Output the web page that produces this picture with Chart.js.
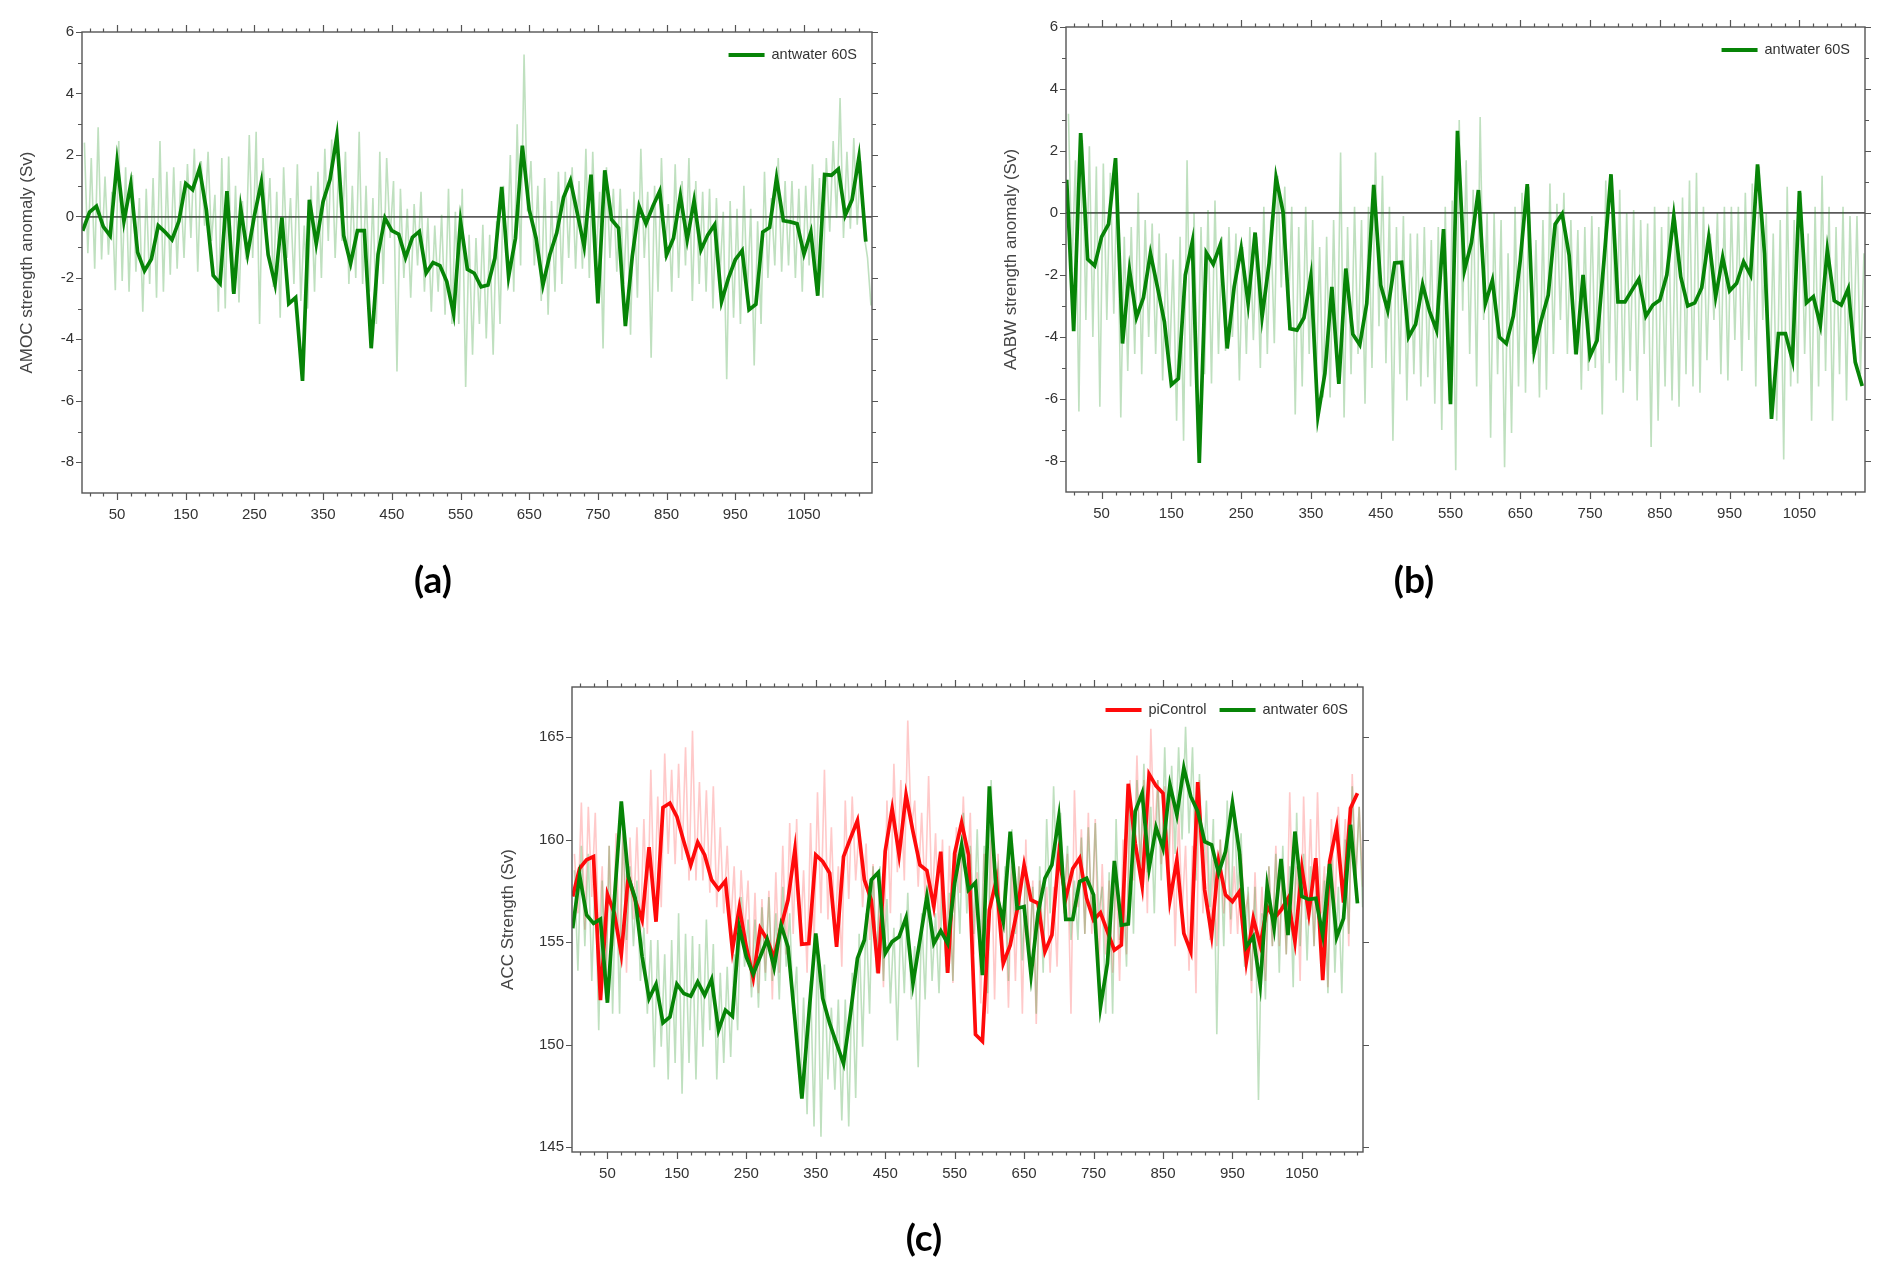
<!DOCTYPE html>
<html><head><meta charset="utf-8">
<script src="https://cdn.jsdelivr.net/npm/chart.js@4.4.1/dist/chart.umd.min.js"></script>
<style>
html,body{margin:0;padding:0;background:#fff;}
body{width:1892px;height:1278px;position:relative;overflow:hidden;}
canvas{position:absolute;display:block;}
.lab{position:absolute;font-family:Lato,'Open Sans',sans-serif;font-weight:700;font-size:37px;color:#000;transform:translate(-50%,-50%);line-height:1;white-space:nowrap;}
</style></head><body>
<canvas id="ca" width="946" height="560" style="left:0px;top:0px;width:946px;height:560px"></canvas>
<canvas id="cb" width="908" height="560" style="left:984px;top:0px;width:908px;height:560px"></canvas>
<canvas id="cc" width="940" height="600" style="left:480px;top:640px;width:940px;height:600px"></canvas>
<div class="lab" style="left:433px;top:578px">(a)</div>
<div class="lab" style="left:1414px;top:578px">(b)</div>
<div class="lab" style="left:924px;top:1236px">(c)</div>
<script>
// ---------- categories (model years of the decadal points) ----------
const years = [0,10,20,30,40,50,60,70,80,90,100,110,120,130,140,150,160,170,180,190,
200,210,220,230,240,250,260,270,280,290,300,310,320,330,340,350,360,370,380,390,
400,410,420,430,440,450,460,470,480,490,500,510,520,530,540,550,560,570,580,590,
600,610,620,630,640,650,660,670,680,690,700,710,720,730,740,750,760,770,780,790,
800,810,820,830,840,850,860,870,880,890,900,910,920,930,940,950,960,970,980,990,
1000,1010,1020,1030,1040,1050,1060,1070,1080,1090,1100,1110,1120,1130,1140];

// ---------- tick labels ----------
const xTickLabels = [50,150,250,350,450,550,650,750,850,950,1050];
const anomTickLabels = [-8,-6,-4,-2,0,2,4,6];
const accTickLabels = [145,150,155,160,165];

// ---------- (a) AMOC, antwater 60S ----------
const amocMean = [-0.47,0.14,0.33,-0.33,-0.63,1.77,-0.16,1.05,-1.17,-1.77,
-1.39,-0.30,-0.51,-0.76,-0.16,1.07,0.87,1.55,0.22,-1.92,
-2.18,0.82,-2.52,0.26,-1.23,0.03,1.11,-1.25,-2.21,-0.03,
-2.84,-2.64,-5.35,0.54,-0.89,0.49,1.20,2.61,-0.63,-1.53,
-0.46,-0.46,-4.29,-1.23,-0.05,-0.46,-0.58,-1.34,-0.68,-0.49,
-1.84,-1.50,-1.60,-2.12,-3.18,-0.16,-1.72,-1.85,-2.29,-2.23,
-1.36,0.96,-1.96,-0.71,2.30,0.22,-0.71,-2.23,-1.25,-0.54,
0.62,1.17,0.11,-0.98,1.36,-2.83,1.50,-0.11,-0.38,-3.57,
-1.30,0.33,-0.24,0.33,0.82,-1.25,-0.71,0.67,-0.76,0.51,
-1.09,-0.60,-0.27,-2.77,-2.01,-1.41,-1.11,-3.04,-2.86,-0.51,
-0.36,1.25,-0.14,-0.18,-0.24,-1.23,-0.51,-2.58,1.36,1.34,
1.54,0.03,0.54,1.93,-0.82];
const amocAnnualHigh = [2.4,1.9,2.9,1.3,0.8,2.45,1.6,1.35,0.6,0.9,
1.25,2.45,1.45,1.6,1.15,1.7,2.2,1.8,2.1,0.7,
1.9,1.95,1.0,0.5,2.65,2.75,1.9,1.25,0.8,1.6,
0.6,1.7,-0.3,1.0,1.45,2.2,2.5,1.45,2.1,1.0,
2.75,1.0,0.6,2.1,1.9,1.15,0.9,0.25,0.4,0.8,
-0.05,-0.3,0.05,0.9,0.15,0.9,-0.6,-0.7,-0.27,-0.6,
-0.16,1.0,2.0,3.0,5.27,1.8,1.0,1.25,0.5,1.45,
1.45,1.6,1.15,2.2,2.1,0.8,1.6,0.9,0.9,0.25,
0.8,2.2,0.8,1.0,1.9,0.4,1.7,1.15,1.9,1.15,
0.8,0.9,0.6,0.15,0.5,0.25,1.0,0.25,-0.16,1.45,
0.6,1.9,1.15,1.15,0.9,1.0,1.7,1.25,1.9,2.45,
3.85,2.1,2.55,1.8,-1.35];
const amocAnnualLow = [-1.2,-1.7,-1.4,-1.25,-2.4,-2.1,-2.45,-1.8,-3.1,-2.2,
-2.65,-2.45,-1.9,-1.7,-1.35,-0.7,-1.8,-0.3,-0.8,-3.1,
-3.0,-2.45,-2.8,-1.4,-1.35,-3.5,-0.6,-2.3,-3.3,-1.35,
-2.2,-2.75,-3.0,-2.45,-2.0,-0.8,-1.35,-0.8,-2.2,-2.0,
-2.2,-2.45,-3.5,-2.2,-0.7,-5.05,-2.0,-2.65,-1.6,-2.45,
-3.1,-2.45,-3.2,-3.5,-3.5,-5.55,-4.5,-3.5,-3.97,-4.5,
-3.5,-1.35,-2.45,-1.6,0.16,-1.6,-2.75,-3.2,-2.45,-2.2,
-1.35,-1.7,-1.7,-2.0,-1.35,-4.3,-1.35,-1.8,-2.2,-3.85,
-2.65,-1.35,-4.6,-2.45,-1.35,-2.45,-2.0,-1.6,-2.75,-2.2,
-2.45,-3.0,-2.0,-5.3,-3.3,-3.5,-2.65,-4.85,-3.5,-2.0,
-1.6,-1.8,-1.6,-2.0,-2.45,-1.6,-2.0,-2.65,-0.5,-0.05,
-0.7,-0.4,-0.27,-0.6,-2.9];

// ---------- (b) AABW, antwater 60S ----------
const aabwMean = [1.07,-3.81,2.58,-1.49,-1.70,-0.77,-0.36,1.77,-4.21,-1.84,
-3.37,-2.73,-1.30,-2.38,-3.51,-5.54,-5.34,-2.00,-0.93,-8.06,
-1.28,-1.65,-1.03,-4.37,-2.38,-1.14,-2.92,-0.63,-3.35,-1.63,
1.15,0.04,-3.73,-3.78,-3.38,-2.03,-6.55,-5.18,-2.38,-5.51,
-1.79,-3.91,-4.25,-2.92,0.91,-2.33,-3.14,-1.61,-1.59,-4.00,
-3.59,-2.31,-3.17,-3.78,-0.52,-6.17,2.65,-1.85,-0.96,0.74,
-2.92,-2.17,-4.00,-4.21,-3.33,-1.52,0.93,-4.45,-3.46,-2.65,
-0.36,-0.03,-1.36,-4.56,-2.00,-4.61,-4.11,-1.52,1.25,-2.87,
-2.87,-2.49,-2.13,-3.33,-2.97,-2.81,-2.00,-0.09,-2.06,-3.00,
-2.90,-2.41,-0.80,-2.70,-1.43,-2.51,-2.27,-1.57,-2.00,1.57,
-1.30,-6.64,-3.89,-3.89,-4.75,0.71,-2.90,-2.70,-3.62,-1.20,
-2.83,-2.97,-2.44,-4.81,-5.58];
const aabwAnnualHigh = [3.2,1.7,2.35,2.15,1.5,1.6,1.3,1.3,-0.77,-0.45,
0.65,-0.23,-0.34,-0.66,-1.3,-1.5,-0.77,1.7,0.0,-0.45,
0.1,0.4,-0.77,-0.45,-0.66,-1.1,-0.45,-0.77,0.2,-0.23,
1.2,0.85,0.2,-0.45,0.2,-0.23,-1.1,-0.77,-0.23,1.95,
-0.45,0.2,-0.23,0.2,1.95,1.2,0.2,-0.45,-0.1,-0.66,
-0.66,-0.45,-0.87,-0.45,0.2,0.4,3.0,1.7,0.75,3.1,
0.0,0.0,-0.23,-1.3,0.2,0.65,0.85,-0.87,-0.23,0.95,
0.3,0.65,-0.23,-0.55,-0.45,-0.1,-0.45,1.05,0.65,0.75,
0.0,0.1,-0.23,-0.34,0.2,-0.45,0.2,-0.23,0.5,1.05,
1.3,0.2,-0.66,0.0,0.2,0.2,0.2,0.65,0.95,1.5,
0.0,-0.66,-0.23,0.85,-0.23,0.65,-0.66,0.2,1.2,0.2,
-0.45,0.2,-0.1,-0.1,-1.3];
const aabwAnnualLow = [-1.85,-6.4,-3.45,-4.0,-6.25,-3.45,-3.25,-6.6,-5.1,-4.55,
-5.2,-4.0,-4.55,-5.4,-4.75,-6.7,-7.35,-5.6,-5.6,-5.2,
-5.5,-4.55,-4.45,-4.0,-5.4,-4.55,-4.1,-5.0,-4.55,-4.2,
-2.4,-3.45,-6.5,-5.6,-4.55,-5.5,-5.95,-5.95,-5.3,-6.6,
-5.2,-4.55,-6.15,-5.0,-3.65,-4.85,-7.35,-5.2,-6.05,-5.2,
-5.6,-5.3,-6.15,-7.0,-6.05,-8.3,-3.15,-4.55,-5.6,-3.45,
-7.25,-5.2,-8.2,-7.1,-5.6,-5.8,-4.55,-5.95,-5.7,-4.55,
-3.45,-4.55,-4.55,-5.7,-5.1,-5.0,-6.5,-4.85,-5.4,-5.8,
-5.1,-6.05,-4.55,-7.55,-6.7,-5.6,-6.05,-6.25,-5.2,-5.6,
-5.8,-4.75,-3.45,-5.2,-5.4,-4.1,-5.1,-4.1,-5.6,-3.45,
-6.15,-6.7,-7.95,-5.6,-5.5,-4.55,-6.7,-5.6,-5.1,-6.7,
-5.2,-6.05,-4.55,-5.2,-2.8];

// ---------- (c) ACC, piControl and antwater 60S ----------
const accPiMean = [157.22,158.60,159.01,159.17,152.17,157.33,156.40,154.40,158.19,157.05,
156.08,159.63,155.99,161.56,161.78,161.12,159.90,158.76,159.87,159.25,
158.03,157.57,157.98,154.61,156.69,154.77,153.26,155.67,155.13,154.23,
155.75,157.05,159.53,154.89,154.93,159.25,158.93,158.36,154.77,159.17,
160.07,160.93,158.03,157.05,153.47,159.43,161.50,159.25,162.18,160.39,
158.76,158.49,156.73,159.41,153.50,159.33,160.83,159.25,150.49,150.16,
156.56,158.03,153.96,154.85,156.56,158.76,157.05,156.89,154.53,155.34,
159.25,157.13,158.57,159.09,157.13,156.08,156.43,155.51,154.61,154.85,
162.72,159.82,157.74,163.19,162.62,162.26,157.05,159.01,155.42,154.53,
162.80,157.54,155.34,158.93,157.30,156.97,157.46,154.04,156.16,154.85,
156.73,156.16,156.56,157.13,155.02,158.60,156.40,159.09,153.14,158.93,
160.60,156.92,161.53,162.26];
const accPiAnnualHigh = [159.3,161.8,161.6,161.3,158.7,159.7,160.3,160.3,160.1,160.6,
161.0,163.4,162.1,164.2,163.4,163.7,164.5,165.3,162.8,162.4,
162.6,160.6,159.7,158.7,158.5,158.0,157.4,157.1,157.5,158.4,
159.7,160.8,161.0,158.5,160.8,162.3,163.4,160.6,158.7,161.9,
162.1,160.6,159.8,158.8,158.0,161.9,163.7,162.9,165.8,161.9,
161.3,163.1,160.3,160.0,159.7,160.6,162.1,161.3,158.4,159.3,
160.0,159.3,158.0,158.7,158.7,160.0,158.0,158.0,157.7,157.7,
160.3,159.3,162.4,160.5,161.3,161.0,158.8,158.0,158.4,160.0,
162.9,164.1,162.9,165.4,162.9,162.6,162.3,161.3,159.7,159.7,
162.9,160.0,159.0,160.0,159.7,158.7,159.3,157.2,158.4,157.7,
158.7,159.7,158.7,162.3,158.7,162.1,161.0,162.3,158.7,161.0,
161.6,161.0,163.2,161.6];
const accPiAnnualLow = [156.4,155.6,157.2,155.1,152.5,154.8,154.4,153.5,156.1,155.4,
155.4,156.7,156.7,159.3,158.8,159.0,158.0,158.0,158.0,157.4,
156.7,156.4,155.7,153.8,155.4,152.8,152.5,153.5,152.2,153.5,
154.4,155.4,154.8,153.5,154.8,156.4,156.1,155.4,153.8,157.1,
158.0,156.7,155.1,153.5,152.8,156.4,158.4,158.0,160.5,157.7,
157.1,156.7,155.1,153.8,153.0,157.4,157.4,154.4,152.0,151.5,
152.2,154.0,151.8,153.1,151.5,153.8,151.0,154.8,153.5,153.8,
156.4,151.5,156.7,155.4,155.4,153.5,154.4,153.5,153.1,154.4,
158.0,158.4,156.4,160.0,158.8,157.7,154.8,156.4,153.6,152.5,
156.4,155.1,154.8,156.4,155.4,155.4,156.4,152.5,154.1,153.1,
154.8,154.8,154.4,156.1,153.1,156.1,154.8,156.4,152.8,156.4,
157.7,154.8,158.0,157.7];
const accAwMean = [155.67,158.24,156.32,155.91,156.12,152.04,157.05,161.86,158.19,157.13,
154.28,152.25,152.95,151.06,151.35,152.95,152.49,152.36,153.06,152.41,
153.18,150.70,151.68,151.38,155.72,154.28,153.44,154.28,155.13,153.76,
155.83,154.77,151.19,147.36,151.43,155.42,152.25,151.03,150.05,149.07,
151.51,154.20,155.10,158.03,158.39,154.45,155.02,155.26,156.19,152.98,
155.10,157.22,154.93,155.55,154.93,157.87,159.74,157.54,157.90,153.39,
162.59,157.38,155.99,160.39,156.64,156.73,153.39,156.40,158.11,158.76,
161.09,156.11,156.11,157.95,158.11,157.30,151.84,153.96,158.96,155.83,
155.88,161.37,162.26,158.60,160.59,159.58,162.67,161.20,163.49,162.10,
161.37,159.90,159.74,158.36,159.41,161.78,159.41,154.77,155.26,152.90,
157.75,155.67,159.06,155.34,160.39,157.22,157.08,157.13,155.34,158.81,
155.23,156.16,160.72,156.89];
const accAwAnnualHigh = [158.5,159.7,159.3,158.4,158.0,159.7,158.7,161.3,158.7,158.0,
155.7,155.1,155.1,154.4,155.1,156.4,155.4,155.3,154.9,156.1,
154.9,153.5,153.8,154.4,157.2,156.1,156.1,156.7,157.2,156.4,
157.7,156.4,153.8,152.3,153.1,155.3,153.9,151.8,152.2,152.2,
153.5,155.4,156.4,158.7,158.7,157.1,155.7,156.4,157.4,154.8,
156.4,158.0,156.4,158.0,157.4,159.3,161.3,159.7,160.5,159.7,
162.9,158.7,158.7,160.5,158.7,158.7,157.7,158.7,161.0,162.6,
161.3,159.7,158.0,160.1,160.6,160.8,157.7,158.4,161.0,157.7,
161.6,162.9,163.7,161.6,162.9,164.5,163.6,164.5,165.5,164.5,
163.2,161.9,161.0,160.0,161.9,161.6,160.3,157.7,157.7,156.4,
158.7,159.3,159.7,158.7,161.3,159.3,158.7,158.7,158.0,159.7,
157.7,160.0,162.6,161.6];
const accAwAnnualLow = [153.6,154.8,153.1,150.7,152.2,151.5,151.5,155.1,154.8,153.1,
151.5,148.9,149.9,148.3,149.1,147.6,149.1,148.3,149.9,150.7,
148.3,149.1,149.4,150.7,153.8,152.3,151.8,153.1,153.1,152.2,
153.8,151.5,147.6,146.6,146.0,145.5,148.3,147.8,146.3,146.0,
147.4,149.9,151.5,153.5,153.1,152.0,150.2,152.5,152.2,148.9,
152.2,153.1,152.5,153.5,153.1,155.4,156.4,155.4,154.8,152.5,
157.7,154.1,153.1,155.4,154.1,154.1,151.5,153.5,156.4,157.7,
157.1,155.1,155.1,155.4,156.1,156.4,151.5,151.5,155.1,153.8,
155.4,158.7,158.4,156.4,158.0,158.7,159.3,160.0,160.3,158.0,
158.0,156.7,150.5,154.8,156.1,157.4,153.8,153.1,147.3,152.2,
154.8,153.5,154.4,152.8,154.8,154.1,154.8,155.1,152.5,153.5,
152.5,155.4,158.0,156.7];

// ---------- helpers ----------
const FONT = '"Liberation Sans", Arial, Helvetica, sans-serif';
const GREEN = '#078407', RED = '#ff0a0a';
const GREEN_FAINT = 'rgba(20,140,20,0.27)', RED_FAINT = 'rgba(255,40,40,0.25)';

function meanSeries(vals){ return vals.map((v,i)=>({x: years[i], y: v})); }
function annualSeries(hi, lo){
  const out = [];
  hi.forEach((h,i)=>{ out.push({x: years[i]+2.5, y: h}); out.push({x: years[i]+7.5, y: lo[i]}); });
  return out;
}

const framePlugin = {
  id: 'frame',
  afterDraw(chart, args, o){
    const {ctx, chartArea: a} = chart;
    const xs = chart.scales.x, ys = chart.scales.y;
    ctx.save();
    ctx.strokeStyle = '#555'; ctx.lineWidth = 1.4;
    ctx.strokeRect(a.left, a.top, a.right - a.left, a.bottom - a.top);
    ctx.beginPath();
    for (let v = 10; v <= xs.max; v += 20) {
      const px = Math.round(xs.getPixelForValue(v)) + 0.5;
      const L = ((v - 50) % 100 === 0) ? 7 : 3.5;
      ctx.moveTo(px, a.bottom); ctx.lineTo(px, a.bottom + L);
      ctx.moveTo(px, a.top); ctx.lineTo(px, a.top - L);
    }
    for (let v = o.yFirst; v <= ys.max + 1e-6; v += o.yStep) {
      const py = Math.round(ys.getPixelForValue(v)) + 0.5;
      const major = o.yMajor.includes(v);
      const L = major ? 6 : 4;
      ctx.moveTo(a.left, py); ctx.lineTo(a.left - L, py);
      ctx.moveTo(a.right, py); ctx.lineTo(a.right + L, py);
    }
    ctx.lineWidth = 1.2; ctx.stroke();
    // legend inside the plot, top right
    const items = chart.data.datasets.filter(d => d.inLegend);
    ctx.font = '14.5px ' + FONT;
    const lineW = 36, gap = 7, itemGap = 13;
    const widths = items.map(d => ctx.measureText(d.label).width);
    let total = widths.reduce((s, w) => s + lineW + gap + w, 0) + itemGap * (items.length - 1);
    let xx = a.right - 15 - total; const yy = a.top + 23;
    items.forEach((d, i) => {
      ctx.strokeStyle = d.borderColor; ctx.lineWidth = 4; ctx.lineCap = 'butt';
      ctx.beginPath(); ctx.moveTo(xx, yy); ctx.lineTo(xx + lineW, yy); ctx.stroke();
      xx += lineW + gap;
      ctx.fillStyle = '#333'; ctx.textBaseline = 'middle'; ctx.textAlign = 'left';
      ctx.fillText(d.label, xx, yy);
      xx += widths[i] + itemGap;
    });
    ctx.restore();
  }
};

function makeChart(id, g, datasets, yMin, yMax, yTicks, yTitle, xMax, zeroLine, frameOpts){
  const W = g.w, H = g.h;
  return new Chart(document.getElementById(id), {
    type: 'line',
    data: { datasets },
    options: {
      responsive: false, animation: false, devicePixelRatio: 1,
      layout: { padding: { left: 0, top: g.top, right: W - g.right, bottom: 0 } },
      elements: { point: { radius: 0 }, line: { tension: 0 } },
      plugins: { legend: { display: false }, tooltip: { enabled: false }, frame: frameOpts },
      scales: {
        x: {
          type: 'linear', min: -1, max: xMax,
          afterBuildTicks: s => { s.ticks = xTickLabels.map(v => ({ value: v })); },
          afterFit: s => { s.height = H - g.bottom; },
          grid: { display: false, drawTicks: false }, border: { display: false },
          ticks: { autoSkip: false, maxRotation: 0, padding: 13, color: '#333', font: { size: 15, family: FONT }, callback: v => String(v) }
        },
        y: {
          type: 'linear', min: yMin, max: yMax,
          afterBuildTicks: s => { s.ticks = yTicks.map(v => ({ value: v })); },
          afterFit: s => { s.width = g.left; },
          grid: { display: zeroLine, drawTicks: false, lineWidth: 1.8,
                  color: c => (c.tick && c.tick.value === 0) ? 'rgba(60,60,60,0.85)' : 'rgba(0,0,0,0)' },
          border: { display: false },
          ticks: { padding: 8, color: '#333', font: { size: 15, family: FONT }, callback: v => String(v) },
          title: { display: true, text: yTitle, color: '#444', font: { size: 17, family: FONT }, padding: { top: g.titlePad, bottom: 0 } }
        }
      }
    },
    plugins: [framePlugin]
  });
}

// (a)
makeChart('ca', { w: 946, h: 560, left: 82, top: 32, right: 872, bottom: 493, titlePad: 16.8 }, [
  { label: 'antwater 60S', inLegend: true, data: meanSeries(amocMean), borderColor: GREEN, borderWidth: 3.7, order: 1 },
  { label: 'antwater 60S annual', data: annualSeries(amocAnnualHigh, amocAnnualLow), borderColor: GREEN_FAINT, borderWidth: 1.6, order: 2 }
], -9, 6, anomTickLabels, 'AMOC strength anomaly (Sv)', 1149, true,
  { yFirst: -8, yStep: 1, yMajor: anomTickLabels });

// (b)
makeChart('cb', { w: 908, h: 560, left: 82, top: 27, right: 881, bottom: 492, titlePad: 16.8 }, [
  { label: 'antwater 60S', inLegend: true, data: meanSeries(aabwMean), borderColor: GREEN, borderWidth: 3.7, order: 1 },
  { label: 'antwater 60S annual', data: annualSeries(aabwAnnualHigh, aabwAnnualLow), borderColor: GREEN_FAINT, borderWidth: 1.6, order: 2 }
], -9, 6, anomTickLabels, 'AABW strength anomaly (Sv)', 1144, true,
  { yFirst: -8, yStep: 1, yMajor: anomTickLabels });

// (c)
makeChart('cc', { w: 940, h: 600, left: 92, top: 47, right: 883, bottom: 512, titlePad: 17.8 }, [
  { label: 'piControl', inLegend: true, data: meanSeries(accPiMean), borderColor: RED, borderWidth: 3.7, order: 2 },
  { label: 'antwater 60S', inLegend: true, data: meanSeries(accAwMean), borderColor: GREEN, borderWidth: 3.7, order: 1 },
  { label: 'piControl annual', data: annualSeries(accPiAnnualHigh, accPiAnnualLow), borderColor: RED_FAINT, borderWidth: 1.6, order: 4 },
  { label: 'antwater 60S annual', data: annualSeries(accAwAnnualHigh, accAwAnnualLow), borderColor: GREEN_FAINT, borderWidth: 1.6, order: 3 }
], 144.76, 167.44, accTickLabels, 'ACC Strength (Sv)', 1138, false,
  { yFirst: 145, yStep: 5, yMajor: accTickLabels });
</script>
</body></html>
